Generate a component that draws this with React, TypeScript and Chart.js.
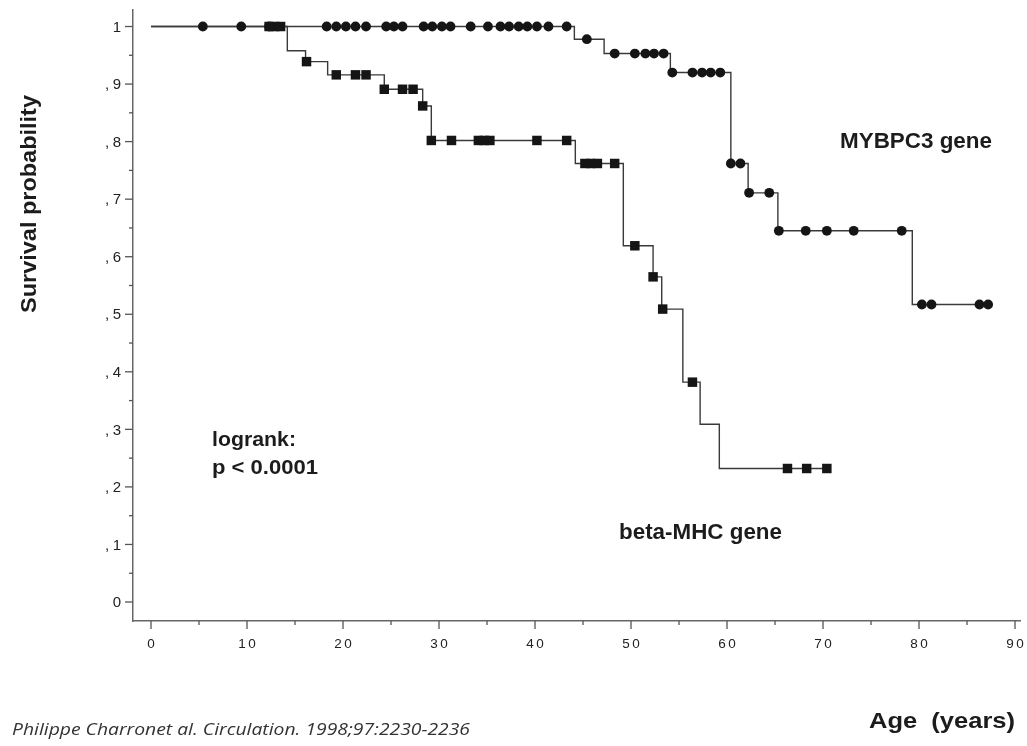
import React, { useEffect, useRef } from 'react';
import { Chart, registerables } from 'chart.js';

Chart.register(...registerables);

// ---- Data ----
// MYBPC3 gene: Kaplan–Meier events (age, survival after event)
const mybpcEventAges = [44.1, 47.2, 54.1, 60.4, 62.2, 65.3, 79.3];
const mybpcEventSurv = [0.978, 0.953, 0.92, 0.762, 0.711, 0.645, 0.517];
// MYBPC3 censored observations (ages)
const mybpcCensorAges = [
  5.4, 9.4, 12.3, 18.3, 19.3, 20.3, 21.3, 22.4, 24.5, 25.3, 26.2, 28.4, 29.3, 30.3, 31.2,
  33.3, 35.1, 36.4, 37.3, 38.3, 39.2, 40.2, 41.4, 43.3, 45.4, 48.3, 50.4, 51.5, 52.4, 53.4,
  54.3, 56.4, 57.4, 58.3, 59.3, 60.4, 61.4, 62.3, 64.4, 65.4, 68.2, 70.4, 73.2, 78.2, 80.3,
  81.3, 86.3, 87.2,
];
const mybpcLastAge = 87.2;

// beta-MHC gene
const mhcEventAges = [14.2, 16.1, 18.4, 24.3, 28.3, 29.2, 44.2, 49.2, 52.3, 53.2, 55.4, 57.2, 59.2];
const mhcEventSurv = [0.958, 0.939, 0.916, 0.891, 0.862, 0.802, 0.762, 0.619, 0.565, 0.509, 0.382, 0.309, 0.232];
const mhcCensorAges = [
  12.3, 12.9, 13.5, 16.2, 19.3, 21.3, 22.4, 24.3, 26.2, 27.3, 28.3, 29.2, 31.3, 34.1, 34.7,
  35.3, 40.2, 43.3, 45.2, 45.8, 46.5, 48.3, 50.4, 52.3, 53.3, 56.4, 66.3, 68.3, 70.4,
];
const mhcLastAge = 70.4;

// Axis ticks
const xTickValues = [0, 10, 20, 30, 40, 50, 60, 70, 80, 90];
const xTickLabels = ['0', '10', '20', '30', '40', '50', '60', '70', '80', '90'];
const yTickValues = [0, 0.1, 0.2, 0.3, 0.4, 0.5, 0.6, 0.7, 0.8, 0.9, 1];
const yTickLabels = ['0', ',1', ',2', ',3', ',4', ',5', ',6', ',7', ',8', ',9', '1'];

// Text
const yTitle = 'Survival probability';
const xTitle = 'Age  (years)';
const mybpcLabel = 'MYBPC3 gene';
const mhcLabel = 'beta-MHC gene';
const logrankLines = ['logrank:', 'p < 0.0001'];
const citation = 'Philippe Charronet al. Circulation. 1998;97:2230-2236';

// ---- helpers ----
function stepLine(ages: number[], surv: number[], last: number) {
  const pts = [{ x: 0, y: 1 }];
  ages.forEach((a, i) => pts.push({ x: a, y: surv[i] }));
  pts.push({ x: last, y: surv[surv.length - 1] });
  return pts;
}
function survAt(t: number, ages: number[], surv: number[]) {
  let s = 1;
  ages.forEach((a, i) => {
    if (a <= t + 1e-9) s = surv[i];
  });
  return s;
}
function censorPoints(cens: number[], ages: number[], surv: number[]) {
  return cens.map((c) => ({ x: c, y: survAt(c, ages, surv) }));
}

const SANS = '"Liberation Sans", Arial, Helvetica, sans-serif';

function fitText(
  ctx: CanvasRenderingContext2D,
  text: string,
  x: number,
  y: number,
  font: string,
  width: number,
  rotate = 0
) {
  ctx.save();
  ctx.font = font;
  ctx.textAlign = 'left';
  ctx.textBaseline = 'alphabetic';
  const w = ctx.measureText(text).width;
  ctx.translate(x, y);
  if (rotate) ctx.rotate(rotate);
  ctx.scale(width / w, 1);
  ctx.fillText(text, 0, 0);
  ctx.restore();
}

const decorPlugin = {
  id: 'decor',
  afterDraw(chart: any) {
    const ctx: CanvasRenderingContext2D = chart.ctx;
    const xs = chart.scales.x;
    const ys = chart.scales.y;
    const area = chart.chartArea;
    ctx.save();
    ctx.strokeStyle = '#555';
    ctx.lineWidth = 1.3;
    // y ticks (major + minor)
    yTickValues.forEach((v, i) => {
      const py = ys.getPixelForValue(v);
      ctx.beginPath();
      ctx.moveTo(area.left, py);
      ctx.lineTo(area.left - 8, py);
      ctx.stroke();
      if (i < yTickValues.length - 1) {
        const pm = ys.getPixelForValue((v + yTickValues[i + 1]) / 2);
        ctx.beginPath();
        ctx.moveTo(area.left, pm);
        ctx.lineTo(area.left - 4, pm);
        ctx.stroke();
      }
    });
    // x ticks (major + minor)
    xTickValues.forEach((v, i) => {
      const px = xs.getPixelForValue(v);
      ctx.beginPath();
      ctx.moveTo(px, area.bottom);
      ctx.lineTo(px, area.bottom + 8);
      ctx.stroke();
      if (i < xTickValues.length - 1) {
        const pm = xs.getPixelForValue((v + xTickValues[i + 1]) / 2);
        ctx.beginPath();
        ctx.moveTo(pm, area.bottom);
        ctx.lineTo(pm, area.bottom + 4);
        ctx.stroke();
      }
    });

    ctx.fillStyle = '#222';
    // y tick labels
    ctx.font = '15px ' + SANS;
    ctx.textAlign = 'right';
    ctx.textBaseline = 'middle';
    (ctx as any).letterSpacing = '3.5px';
    yTickValues.forEach((v, i) => {
      const py = ys.getPixelForValue(v);
      ctx.fillText(yTickLabels[i], area.left - 12 + 3.5, py + 1);
    });
    // x tick labels
    ctx.font = '13.5px ' + SANS;
    ctx.textAlign = 'center';
    (ctx as any).letterSpacing = '2.5px';
    xTickValues.forEach((v, i) => {
      const px = xs.getPixelForValue(v);
      ctx.fillText(xTickLabels[i], px + 1.25, area.bottom + 23);
    });
    (ctx as any).letterSpacing = '0px';

    // annotations
    ctx.fillStyle = '#1c1c1c';
    fitText(ctx, mybpcLabel, 840, 148, 'bold 22px ' + SANS, 152);
    fitText(ctx, mhcLabel, 619, 539, 'bold 22px ' + SANS, 163);
    fitText(ctx, logrankLines[0], 212, 446, 'bold 21px ' + SANS, 84);
    fitText(ctx, logrankLines[1], 212, 474, 'bold 21px ' + SANS, 106);
    fitText(ctx, xTitle, 869, 728, 'bold 22px ' + SANS, 146);
    fitText(ctx, yTitle, 36, 313, 'bold 22px ' + SANS, 218, -Math.PI / 2);
    ctx.fillStyle = '#333';
    fitText(ctx, citation, 12, 735, 'italic 16px "Open Sans", ' + SANS, 458);
    ctx.restore();
  },
};

export default function App() {
  const canvasRef = useRef<HTMLCanvasElement | null>(null);

  useEffect(() => {
    const canvas = canvasRef.current;
    if (!canvas) return;
    const lineColor = '#3a3a3a';
    const chart = new Chart(canvas, {
      type: 'line',
      data: {
        datasets: [
          {
            label: 'MYBPC3 censored',
            data: censorPoints(mybpcCensorAges, mybpcEventAges, mybpcEventSurv),
            showLine: false,
            pointStyle: 'circle',
            pointRadius: 4.9,
            pointBackgroundColor: '#151515',
            pointBorderWidth: 0,
            order: 0,
          },
          {
            label: 'beta-MHC censored',
            data: censorPoints(mhcCensorAges, mhcEventAges, mhcEventSurv),
            showLine: false,
            pointStyle: 'rect',
            pointRadius: 6.7,
            pointBackgroundColor: '#151515',
            pointBorderWidth: 0,
            order: 0,
          },
          {
            label: 'MYBPC3 gene',
            data: stepLine(mybpcEventAges, mybpcEventSurv, mybpcLastAge),
            stepped: 'before',
            borderColor: lineColor,
            borderWidth: 1.4,
            pointRadius: 0,
            fill: false,
            order: 1,
          },
          {
            label: 'beta-MHC gene',
            data: stepLine(mhcEventAges, mhcEventSurv, mhcLastAge),
            stepped: 'before',
            borderColor: lineColor,
            borderWidth: 1.4,
            pointRadius: 0,
            fill: false,
            order: 1,
          },
        ] as any,
      },
      options: {
        animation: false,
        responsive: false,
        events: [],
        layout: { padding: { top: 10, right: 7, left: 0, bottom: 0 } },
        plugins: {
          legend: { display: false },
          tooltip: { enabled: false },
          title: { display: false },
        },
        scales: {
          x: {
            type: 'linear',
            min: -1.875,
            max: 90.52,
            grid: { display: false },
            border: { display: true, color: '#666', width: 1.5 },
            ticks: { display: false },
            afterFit: (s: any) => {
              s.height = 125;
            },
          },
          y: {
            type: 'linear',
            min: -0.033,
            max: 1.0287,
            grid: { display: false },
            border: { display: true, color: '#666', width: 1.5 },
            ticks: { display: false },
            afterFit: (s: any) => {
              s.width = 133;
            },
          },
        },
      } as any,
      plugins: [decorPlugin],
    });
    return () => chart.destroy();
  }, []);

  return (
    <div style={{ position: 'absolute', left: 0, top: 0, width: 1027, height: 746, background: '#fff' }}>
      <canvas ref={canvasRef} width={1027} height={746} style={{ display: 'block' }} />
    </div>
  );
}
